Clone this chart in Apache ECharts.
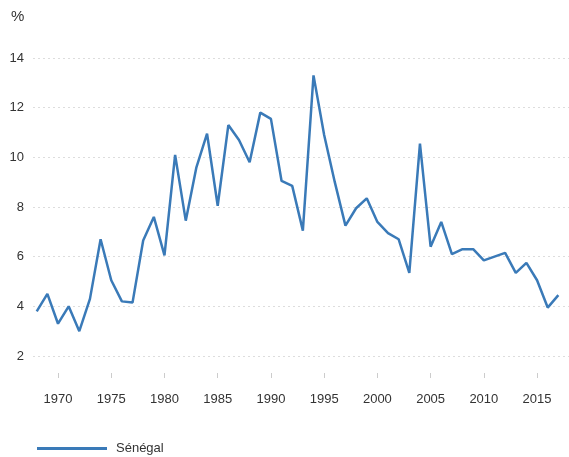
<!DOCTYPE html>
<html>
<head>
<meta charset="utf-8">
<script src="https://cdn.jsdelivr.net/npm/echarts@6/dist/echarts.min.js"></script>
<style>
  html, body { margin: 0; padding: 0; background: #fff; }
  #chart { width: 569px; height: 457px; }
</style>
</head>
<body>
<div id="chart"></div>
<script>
const years = []
for (let y = 1968; y <= 2017; y++) years.push(y)

// Sénégal, %
const senegal = [
  3.8, 4.5, 3.3, 4.0, 3.0, 4.3, 6.7, 5.05, 4.2, 4.15,
  6.65, 7.6, 6.05, 10.1, 7.45, 9.6, 10.95, 8.05, 11.3, 10.7,
  9.8, 11.8, 11.55, 9.05, 8.85, 7.05, 13.3, 10.9, 9.0, 7.25,
  7.95, 8.35, 7.4, 6.95, 6.7, 5.35, 10.55, 6.4, 7.4, 6.1,
  6.3, 6.3, 5.85, 6.0, 6.15, 5.35, 5.75, 5.05, 3.95, 4.45
]

const xTicks = [1970, 1975, 1980, 1985, 1990, 1995, 2000, 2005, 2010, 2015]

const chart = echarts.init(document.getElementById('chart'))

chart.setOption({
  animation: false,
  backgroundColor: '#fff',
  textStyle: { fontFamily: 'Liberation Sans, Arial, sans-serif' },
  title: {
    text: '%',
    left: 6,
    top: 4,
    textStyle: { fontSize: 15, fontWeight: 'normal', color: '#333' }
  },
  grid: { left: 33, right: 0, top: 58, bottom: 101 },
  legend: {
    left: 32,
    top: 437,
    icon: 'rect',
    itemWidth: 70,
    itemHeight: 3,
    textStyle: { fontSize: 13, color: '#333', padding: [0, 0, 0, 4] },
    data: ['Sénégal']
  },
  xAxis: {
    type: 'value',
    min: 1967.65,
    max: 2018,
    offset: 17,
    axisLine: { show: false },
    splitLine: { show: false },
    axisTick: {
      show: true,
      length: 5,
      customValues: xTicks,
      lineStyle: { color: '#cccccc' }
    },
    axisLabel: {
      customValues: xTicks,
      margin: 20,
      fontSize: 13,
      color: '#333',
      formatter: v => String(v)
    }
  },
  yAxis: {
    type: 'value',
    min: 2,
    max: 14,
    interval: 2,
    axisLine: { show: false },
    axisTick: { show: false },
    axisLabel: { margin: 9, fontSize: 13, color: '#333' },
    splitLine: { lineStyle: { type: [2, 3], color: '#dddddd', width: 1 } }
  },
  series: [{
    name: 'Sénégal',
    type: 'line',
    data: years.map((y, i) => [y, senegal[i]]),
    showSymbol: false,
    symbol: 'none',
    lineStyle: { color: '#3a7ab8', width: 2.5 },
    itemStyle: { color: '#3a7ab8' }
  }]
})
</script>
</body>
</html>
